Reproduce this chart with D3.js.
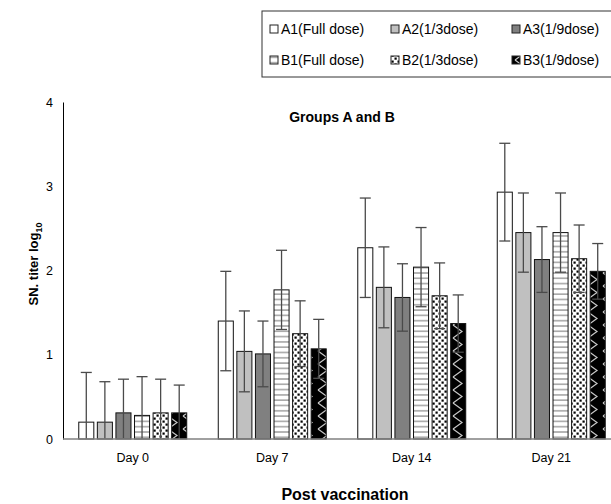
<!DOCTYPE html>
<html>
<head>
<meta charset="utf-8">
<script src="https://cdn.jsdelivr.net/npm/d3@7"></script>
<style>
  body { margin: 0; background: #fff; }
  text { font-family: "Liberation Sans", Arial, sans-serif; }
</style>
</head>
<body>
<div id="chart"></div>
<script>

// categories and series
var days = ["Day 0", "Day 7", "Day 14", "Day 21"];
var groups = ["A1(Full dose)", "A2(1/3dose)", "A3(1/9dose)", "B1(Full dose)", "B2(1/3dose)", "B3(1/9dose)"];

// mean titer per group (one value per day)
var A1 = [0.20, 1.40, 2.27, 2.93];
var A2 = [0.20, 1.04, 1.80, 2.45];
var A3 = [0.31, 1.01, 1.68, 2.13];
var B1 = [0.28, 1.77, 2.04, 2.45];
var B2 = [0.31, 1.25, 1.70, 2.14];
var B3 = [0.31, 1.07, 1.37, 1.99];

// standard deviation (error bars)
var A1_sd = [0.59, 0.59, 0.59, 0.58];
var A2_sd = [0.48, 0.48, 0.48, 0.47];
var A3_sd = [0.40, 0.39, 0.40, 0.39];
var B1_sd = [0.46, 0.47, 0.47, 0.47];
var B2_sd = [0.40, 0.39, 0.39, 0.40];
var B3_sd = [0.33, 0.35, 0.34, 0.33];

var yTicks = [0, 1, 2, 3, 4];

var means = [A1, A2, A3, B1, B2, B3];
var sds = [A1_sd, A2_sd, A3_sd, B1_sd, B2_sd, B3_sd];


var width = 611,
    height = 504;

var svg = d3.select("#chart")
            .append("svg")
            .attr("width", width)
            .attr("height", height);

// fill patterns for B groups
var defs = svg.append("defs");

var pH = defs.append("pattern")
    .attr("id", "pat-lines")
    .attr("patternUnits", "userSpaceOnUse")
    .attr("width", 6).attr("height", 5.3);
pH.append("rect").attr("width", 6).attr("height", 5.3).attr("fill", "#fff");
pH.append("rect").attr("y", 2).attr("width", 6).attr("height", 1.4).attr("fill", "#9a9a9a");

var pD = defs.append("pattern")
    .attr("id", "pat-dots")
    .attr("patternUnits", "userSpaceOnUse")
    .attr("width", 6).attr("height", 6);
pD.append("rect").attr("width", 6).attr("height", 6).attr("fill", "#fff");
pD.append("rect").attr("x", 0.5).attr("y", 0.5).attr("width", 2.2).attr("height", 2.2).attr("fill", "#000");
pD.append("rect").attr("x", 3.5).attr("y", 3.5).attr("width", 2.2).attr("height", 2.2).attr("fill", "#000");

var pZ = defs.append("pattern")
    .attr("id", "pat-zig")
    .attr("patternUnits", "userSpaceOnUse")
    .attr("width", 15).attr("height", 13);
pZ.append("rect").attr("width", 15).attr("height", 13).attr("fill", "#000");
pZ.append("path")
    .attr("d", "M3,0 L12,6.5 L3,13")
    .attr("fill", "none")
    .attr("stroke", "#c8c8c8")
    .attr("stroke-width", 1.2);

var fills = ["#ffffff", "#c0c0c0", "#808080", "url(#pat-lines)", "url(#pat-dots)", "url(#pat-zig)"];

// scales
var x0 = d3.scaleBand()
           .domain(days)
           .range([63, 621])
           .paddingInner(0.226)
           .paddingOuter(0.113);

var x1 = d3.scaleBand()
           .domain(groups)
           .range([0, x0.bandwidth()])
           .paddingInner(0.19)
           .paddingOuter(0);

var y = d3.scaleLinear()
          .domain([0, 4])
          .range([439, 102]);

// y axis
var yAxis = svg.append("g")
    .attr("transform", "translate(63,0)")
    .call(d3.axisLeft(y).tickValues(yTicks).tickSize(0).tickPadding(10).tickFormat(d3.format("d")));
yAxis.select(".domain").attr("stroke", "#000").attr("stroke-width", 1);
yAxis.selectAll("text").attr("font-size", 12.5).attr("fill", "#000").attr("font-family", "Liberation Sans, Arial, sans-serif");

// bars
var rows = [];
days.forEach(function(d, i) {
    groups.forEach(function(g, j) {
        rows.push({day: d, group: g, k: j, value: means[j][i], sd: sds[j][i]});
    });
});

var bars = svg.append("g");
bars.selectAll("rect")
    .data(rows)
    .enter()
    .append("rect")
        .attr("x", function(d) { return x0(d.day) + x1(d.group); })
        .attr("y", function(d) { return y(d.value); })
        .attr("width", x1.bandwidth())
        .attr("height", function(d) { return y(0) - y(d.value); })
        .attr("fill", function(d) { return fills[d.k]; })
        .attr("stroke", "#111")
        .attr("stroke-width", 1);

// error bars
var err = svg.append("g")
    .attr("stroke", "#4a4a4a")
    .attr("stroke-width", 1.3);

var cap = 5.5;
rows.forEach(function(d) {
    var cx = x0(d.day) + x1(d.group) + x1.bandwidth() / 2;
    var hi = d.value + d.sd,
        lo = Math.max(0, d.value - d.sd);
    err.append("line").attr("x1", cx).attr("x2", cx).attr("y1", y(hi)).attr("y2", y(lo));
    err.append("line").attr("x1", cx - cap).attr("x2", cx + cap).attr("y1", y(hi)).attr("y2", y(hi));
    if (d.value - d.sd > 0) {
        err.append("line").attr("x1", cx - cap).attr("x2", cx + cap).attr("y1", y(lo)).attr("y2", y(lo));
    }
});

// x axis
svg.append("line")
    .attr("x1", 63).attr("x2", width)
    .attr("y1", y(0)).attr("y2", y(0))
    .attr("stroke", "#808080")
    .attr("stroke-width", 1.3);

svg.append("g")
    .selectAll("text")
    .data(days)
    .enter()
    .append("text")
        .attr("x", function(d) { return x0(d) + x0.bandwidth() / 2; })
        .attr("y", 462)
        .attr("text-anchor", "middle")
        .attr("font-size", 12.5)
        .text(function(d) { return d; });

// titles
svg.append("text")
    .attr("x", 342).attr("y", 122)
    .attr("text-anchor", "middle")
    .attr("font-size", 14).attr("font-weight", "bold")
    .text("Groups A and B");

svg.append("text")
    .attr("x", 345).attr("y", 500)
    .attr("text-anchor", "middle")
    .attr("font-size", 16).attr("font-weight", "bold")
    .text("Post vaccination");

var yl = svg.append("text")
    .attr("transform", "translate(38,264) rotate(-90)")
    .attr("text-anchor", "middle")
    .attr("font-size", 13).attr("font-weight", "bold");
yl.append("tspan").text("SN. titer log");
yl.append("tspan").attr("font-size", 9).attr("dy", 4).text("10");

// legend
var legend = svg.append("g");
legend.append("rect")
    .attr("x", 262).attr("y", 11)
    .attr("width", 400).attr("height", 66)
    .attr("fill", "#fff")
    .attr("stroke", "#333")
    .attr("stroke-width", 1);

var item = legend.selectAll("g.item")
    .data(groups)
    .enter()
    .append("g")
        .attr("class", "item")
        .attr("transform", function(d, i) {
            return "translate(" + (270 + (i % 3) * 121) + "," + (i < 3 ? 29 : 60) + ")";
        });

item.append("rect")
    .attr("x", 0).attr("y", -4)
    .attr("width", 8).attr("height", 8)
    .attr("fill", function(d, i) { return fills[i]; })
    .attr("stroke", "#222")
    .attr("stroke-width", 1);

item.append("text")
    .attr("x", 11).attr("y", 5)
    .attr("font-size", 14)
    .text(function(d) { return d; });

</script>
</body>
</html>
